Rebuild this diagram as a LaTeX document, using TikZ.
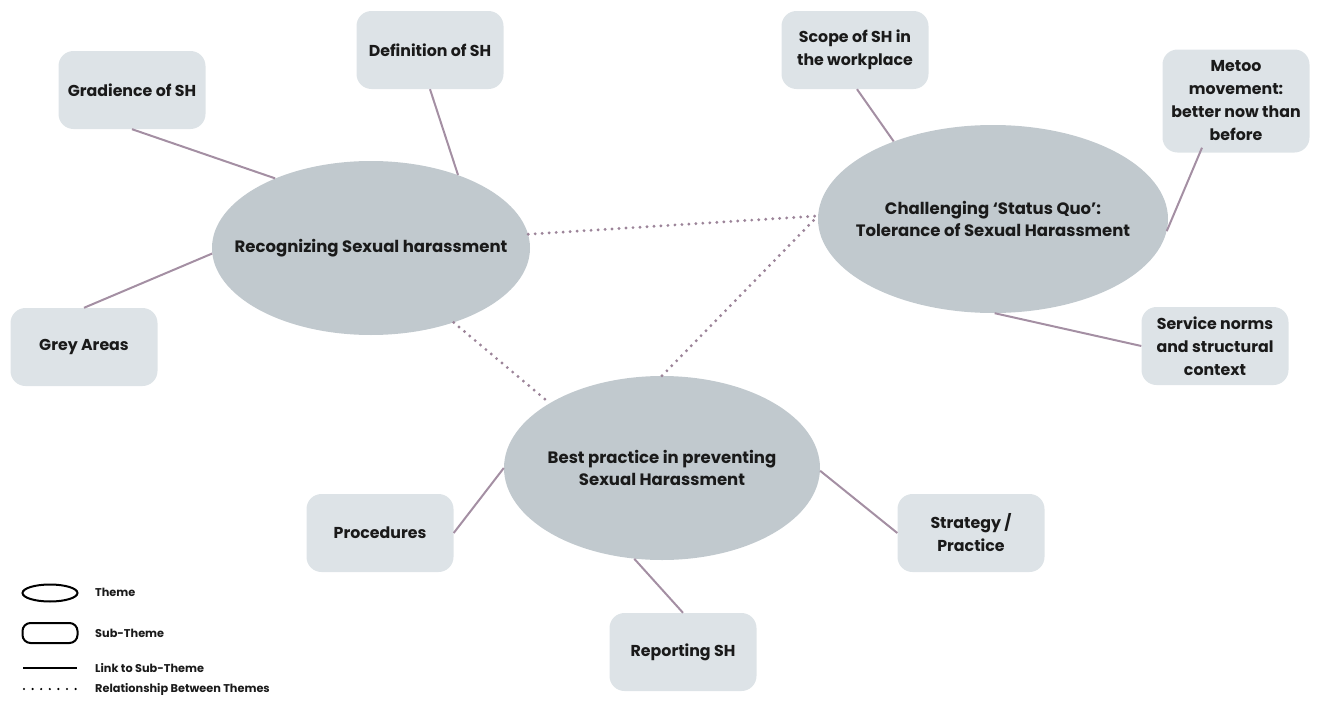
\documentclass[tikz,border=0pt]{standalone}
\usepackage{fontspec}
\setmainfont{Poppins}
\usetikzlibrary{shapes.geometric}
\definecolor{themefill}{HTML}{C1C9CE}
\definecolor{subfill}{HTML}{DDE3E7}
\definecolor{linkcol}{HTML}{A48FA3}
\definecolor{dotcol}{HTML}{9C8499}
\definecolor{txt}{HTML}{1A1A1A}
\tikzset{
  theme/.style={ellipse, fill=themefill, inner sep=0pt},
  themetext/.style={align=center, text=txt, inner sep=0pt, font=\bfseries\fontsize{16.5}{22.5}\selectfont},
  subtheme/.style={rectangle, rounded corners=15pt, fill=subfill, minimum width=147pt, minimum height=78pt, inner sep=2pt, align=center, text=txt, font=\bfseries\fontsize{15.8}{23}\selectfont},
  link/.style={draw=linkcol, line width=2pt},
  rel/.style={draw=dotcol, line width=3.2pt, line cap=round, dash pattern=on 0pt off 7pt},
  legtext/.style={anchor=west, inner sep=0pt, text=txt, font=\bfseries\fontsize{11.3}{13}\selectfont},
}
\begin{document}
\begin{tikzpicture}[x=1pt,y=-1pt]
\useasboundingbox (0,0) rectangle (1318,704);
% themes
\node[theme, minimum width=318pt, minimum height=174pt,
  label={[themetext]center:Recognizing Sexual harassment}] (rec) at (371,248) {};
\node[theme, minimum width=350pt, minimum height=188pt,
  label={[themetext]center:Challenging `Status Quo':\\Tolerance of Sexual Harassment}] (chal) at (993,219) {};
\node[theme, minimum width=316pt, minimum height=184pt,
  label={[themetext]center:Best practice in preventing\\Sexual Harassment}] (best) at (662,468) {};
% sub-themes
\node[subtheme] (grad) at (132,90) {Gradience of SH};
\node[subtheme] (def) at (430,50) {Definition of SH};
\node[subtheme] (grey) at (84,347) {Grey Areas};
\node[subtheme] (scope) at (855,50) {Scope of SH in\\the workplace};
\node[subtheme, minimum height=103pt] (metoo) at (1236,101) {Metoo\\movement:\\better now than\\before};
\node[subtheme] (serv) at (1215,346) {Service norms\\and structural\\context};
\node[subtheme] (proc) at (380,533) {Procedures};
\node[subtheme] (strat) at (971,533) {Strategy /\\Practice};
\node[subtheme] (rep) at (683,652) {Reporting SH};
% links
\draw[link] (grad.south) -- (rec.144.5);
\draw[link] (def.south) -- (rec.40.5);
\draw[link] (grey.north) -- (rec.182);
\draw[link] ([xshift=2pt]scope.south) -- (chal.142.7);
\draw[link] ([xshift=-34pt,yshift=5pt]metoo.south) -- (chal.356);
\draw[link] (serv.west) -- (chal.271);
\draw[link] (proc.east) -- (best.180);
\draw[link] (strat.west) -- (best.359);
\draw[link] (rep.north) -- (best.253.6);
% relationships
\draw[rel] (rec.5) -- (chal.179);
\draw[rel] (rec.318) -- (best.150.3);
\draw[rel] (best.90) -- (chal.179);
% legend
\node[draw=black, line width=2pt, ellipse, minimum width=55pt, minimum height=17pt, inner sep=0pt] (lgtheme) at (50,593) {};
\node[draw=black, line width=2pt, rectangle, rounded corners=8pt, minimum width=55pt, minimum height=20pt, inner sep=0pt] (lgsub) at (50,633) {};
\coordinate (lgl1) at (23,668);
\coordinate (lgl2) at (77,668);
\coordinate (lgd1) at (24,689);
\coordinate (lgd2) at (76,689);
\draw[black, line width=2pt] (lgl1) -- (lgl2);
\draw[black, line width=2.4pt, line cap=round, dash pattern=on 0pt off 8.6pt] (lgd1) -- (lgd2);
\node[legtext] (t1) at (95,592) {Theme};
\node[legtext] (t2) at (95,633) {Sub-Theme};
\node[legtext] (t3) at (95,668) {Link to Sub-Theme};
\node[legtext] (t4) at (95,689) {Relationship Between Themes};
\end{tikzpicture}
\end{document}
